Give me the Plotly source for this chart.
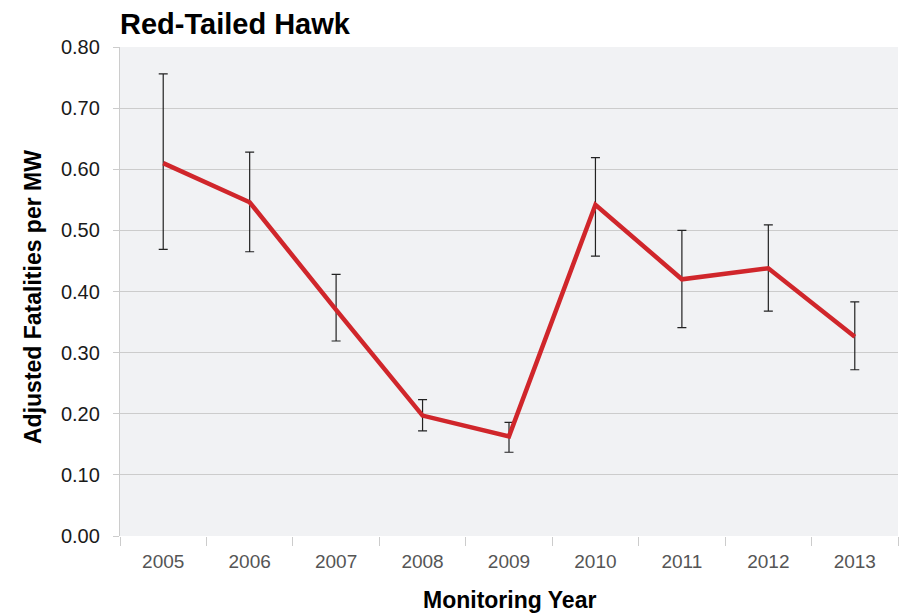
import plotly.graph_objects as go

years = ["2005", "2006", "2007", "2008", "2009", "2010", "2011", "2012", "2013"]
fatalities = [0.610, 0.546, 0.370, 0.197, 0.163, 0.542, 0.420, 0.438, 0.326]
upper = [0.756, 0.628, 0.428, 0.223, 0.186, 0.619, 0.500, 0.509, 0.383]
lower = [0.469, 0.465, 0.319, 0.172, 0.137, 0.458, 0.341, 0.368, 0.272]
y_ticks = [0.0, 0.1, 0.2, 0.3, 0.4, 0.5, 0.6, 0.7, 0.8]

err_plus = [u - v for u, v in zip(upper, fatalities)]
err_minus = [v - l for v, l in zip(fatalities, lower)]

W, H = 906, 615
ML, MR, MT, MB = 120, 8, 47, 79
PW = W - ML - MR
PH = H - MT - MB

fig = go.Figure()
fig.add_trace(go.Scatter(
    x=years, y=fatalities, mode="lines",
    line=dict(color="#d0262b", width=4.5),
    error_y=dict(type="data", symmetric=False, array=err_plus, arrayminus=err_minus,
                 color="#222222", thickness=1.2, width=4.5),
    showlegend=False,
))

bold = "Liberation Sans, Arial, sans-serif"

fig.update_layout(
    width=W, height=H,
    margin=dict(l=ML, r=MR, t=MT, b=MB),
    paper_bgcolor="white",
    plot_bgcolor="#f1f2f4",
    title=dict(text="<b>Red-Tailed Hawk</b>", x=0, xref="paper", xanchor="left",
               y=1 - 24 / H, yref="container", yanchor="middle",
               font=dict(family=bold, size=29, color="black")),
    xaxis=dict(
        type="category", range=[-0.5, 8.5], automargin=False,
        tickson="boundaries", ticks="outside", ticklen=9, tickcolor="#cccccc",
        showgrid=False, showline=False, zeroline=False, ticklabelstandoff=12,
        tickfont=dict(family="Liberation Sans, Arial, sans-serif", size=19, color="#555555"),
    ),
    yaxis=dict(
        range=[0, 0.8], tickvals=y_ticks, tickformat=".2f", automargin=False,
        ticks="outside", ticklen=6, tickcolor="#cccccc",
        showgrid=True, gridcolor="#cccccc", gridwidth=1.3,
        showline=True, linecolor="#cccccc", linewidth=1.3,
        zeroline=False, ticklabelstandoff=9,
        tickfont=dict(family="Liberation Sans, Arial, sans-serif", size=20, color="#1a1a1a"),
    ),
    annotations=[
        dict(text="<b>Monitoring Year</b>", xref="paper", yref="paper",
             x=0.5, y=-(600 - (MT + PH)) / PH, xanchor="center", yanchor="middle",
             showarrow=False, font=dict(family=bold, size=23, color="black")),
        dict(text="<b>Adjusted Fatalities per MW</b>", xref="paper", yref="paper",
             x=(33 - ML) / PW, y=(MT + PH - 297) / PH, xanchor="center", yanchor="middle",
             textangle=-90, showarrow=False, font=dict(family=bold, size=23, color="black")),
    ],
)

fig.write_html("out.html", config={"displayModeBar": False},
               post_script="document.body.style.margin='0';")
